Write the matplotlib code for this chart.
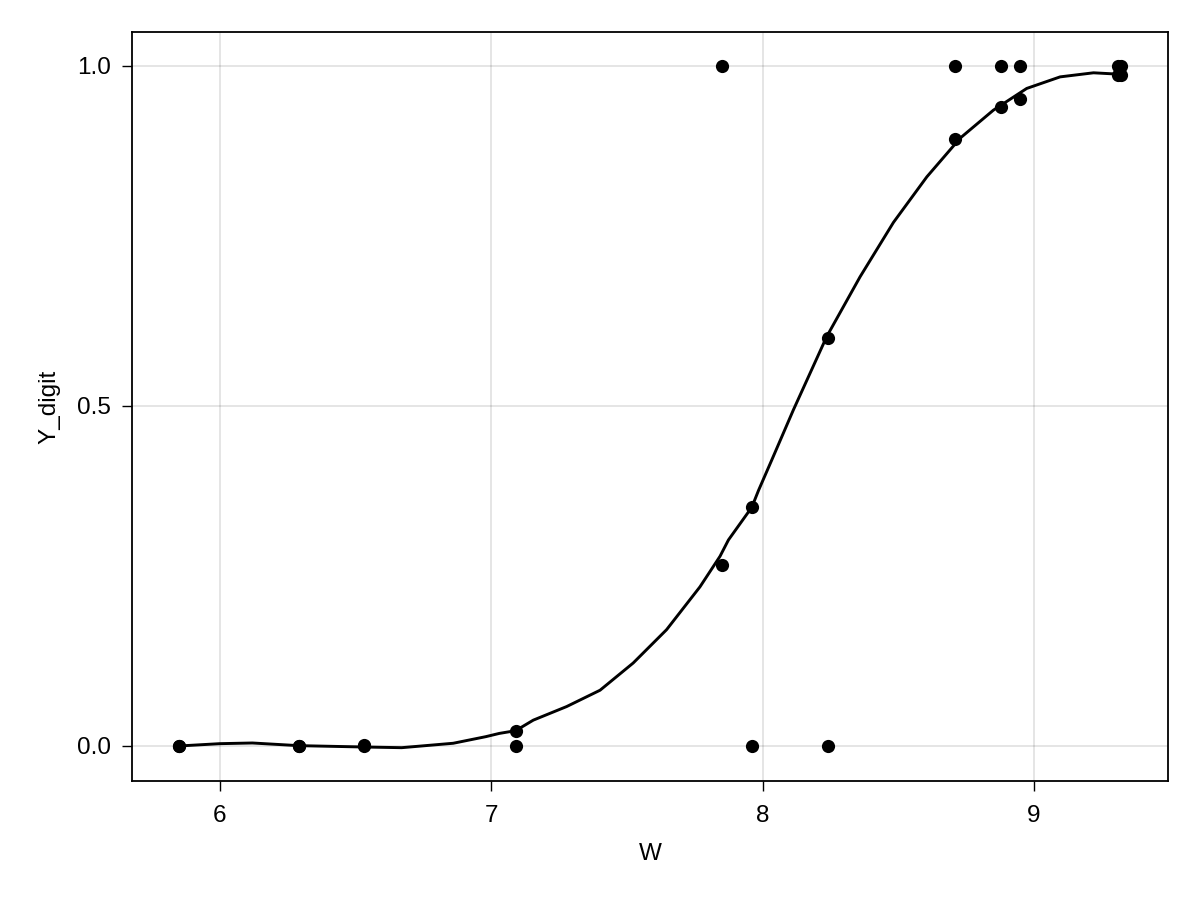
import matplotlib
matplotlib.use("Agg")
import matplotlib.pyplot as plt

plt.rcParams['font.family'] = ['Liberation Sans', 'DejaVu Sans']

# Observed data
w_obs = [5.85, 6.29, 6.53, 7.09, 7.85, 7.96, 8.24, 8.71, 8.88, 8.95, 9.31, 9.32]
y_obs = [0, 0, 0, 0, 1, 0, 0, 1, 1, 1, 1, 1]

# Fitted values at observed W
w_fit = [5.85, 6.29, 6.53, 7.09, 7.85, 7.96, 8.24, 8.71, 8.88, 8.95, 9.31, 9.32]
y_fit = [0.0, 0.0005, 0.001, 0.0225, 0.266, 0.352, 0.600, 0.892, 0.939, 0.952, 0.987, 0.987]

# Smooth curve
curve_w = [5.85, 6.00, 6.12, 6.29, 6.53, 6.67, 6.86, 6.98, 7.03, 7.09, 7.155, 7.278,
           7.401, 7.523, 7.646, 7.769, 7.843, 7.874, 7.96, 7.985, 8.033, 8.113,
           8.236, 8.359, 8.482, 8.605, 8.728, 8.85, 8.973, 9.096, 9.219, 9.311]
curve_y = [0.0, 0.0034, 0.0044, 0.0005, -0.0015, -0.0025, 0.004, 0.0137, 0.0185, 0.0225,
           0.038, 0.058, 0.082, 0.122, 0.171, 0.234, 0.279, 0.303, 0.351, 0.376, 0.42,
           0.494, 0.602, 0.690, 0.770, 0.837, 0.894, 0.935, 0.967, 0.984, 0.990, 0.988]

xticks = [6, 7, 8, 9]
yticks = [0.0, 0.5, 1.0]
ytick_labels = ["0.0", "0.5", "1.0"]

fig = plt.figure(figsize=(12, 9), dpi=100)
ax = fig.add_axes([132/1200, 1 - 781/900, (1168-132)/1200, (781-32)/900])

ax.plot(curve_w, curve_y, color='black', linewidth=2.1, solid_joinstyle='round',
        solid_capstyle='round', zorder=3)
ax.plot(w_obs, y_obs, 'o', color='black', markersize=9.5, markeredgewidth=0, zorder=4)
ax.plot(w_fit, y_fit, 'o', color='black', markersize=9.5, markeredgewidth=0, zorder=4)

ax.set_xlim(5.6765, 9.4935)
ax.set_ylim(-0.0515, 1.05)
ax.set_xticks(xticks)
ax.set_yticks(yticks)
ax.set_yticklabels(ytick_labels)

ax.grid(True, color='black', alpha=0.12, linewidth=1.2)
ax.set_axisbelow(True)
for s in ax.spines.values():
    s.set_linewidth(1.3)

ax.tick_params(axis='both', direction='out', length=7, width=1.0, labelsize=17.5)
ax.tick_params(axis='x', pad=10)
ax.tick_params(axis='y', pad=8)

ax.set_xlabel("W", fontsize=17.5, labelpad=12)
ax.set_ylabel("Y_digit", fontsize=17.5, labelpad=12)

fig.savefig("out.png", dpi=100)
